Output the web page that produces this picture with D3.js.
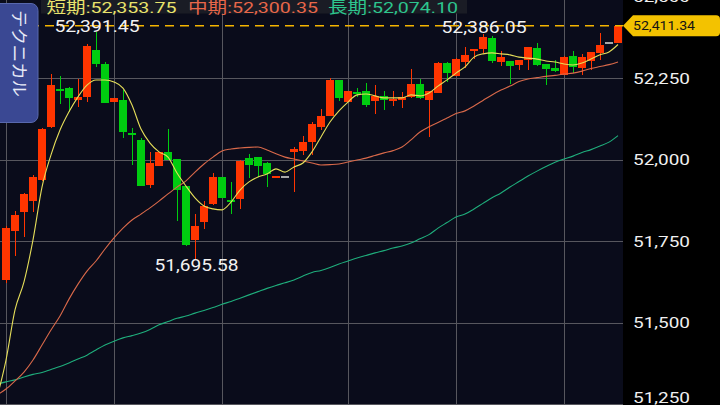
<!DOCTYPE html>
<html><head><meta charset="utf-8">
<script src="https://cdn.jsdelivr.net/npm/d3@7"></script>
<style>html,body{margin:0;padding:0;background:#000;overflow:hidden}</style>
</head><body><svg id="c" width="720" height="405"></svg>
<script>
// ---- data ----
const opens = [51631,51782,51840,51874,51938,52100,52216,52219,52182,52192,
  52336,52294,52176,52183,52080,52061,51922,51982,52024,52002,
  51919,51754,51810,51864,51947,51876,51879,52004,52008,51991,
  51943,51948,52025,52028,52054,52101,52134,52244,52178,52208,
  52210,52181,52197,52181,52183,52192,52232,52183,52206,52298,
  52258,52301,52334,52341,52373,52301,52303,52291,52306,52343,
  52293,52283,52260,52319,52283,52303,52329,52358,52358];
const highs = [51797,51843,51897,51953,52096,52262,52256,52223,52248,52354,
  52391.45,52301,52190,52214,52097,52067,52025,52025,52093,52002,
  51919,51833,51874,51958,51948,51933,51998,52019,52009,51992,
  51948,51948,52040,52074,52117,52156,52250,52246,52211,52221,
  52236,52229,52212,52212,52209,52279,52248,52212,52299,52301,
  52312,52347,52338,52386.05,52380,52335,52304,52307,52346,52358,
  52294,52306,52317,52334,52325,52331,52390,52358,52411.34];
const lows = [51621,51704,51763,51839,51936,52098,52170,52146,52163,52178,
  52286,52173,52176,52068,51984,51919,51912,51981,51998,51812,
  51736,51695.58,51787,51862,51882,51833,51849,51943,51948,51916,
  51943,51948,51902,52015,52015,52090,52133,52180,52177,52192,
  52163,52140,52154,52166,52160,52191,52186,52071,52204,52240,
  52256,52282,52309,52327,52298,52289,52232,52276,52276,52288,
  52229,52268,52259,52267,52260,52276,52306,52358,52357];
const closes = [51790,51830,51895,51948,52094,52229,52211,52189,52194,52349,
  52293,52175,52190,52086,52075,51920,51991,52025,51998,51908,
  51738,51798,51859,51948,51883,51872,51997,51984,51981,51956,
  51948,51948,52033,52054,52109,52134,52244,52189,52210,52203,
  52168,52197,52183,52186,52194,52233,52189,52211,52298,52267,
  52310,52322,52337,52377,52304,52315,52288,52306,52345,52291,
  52279,52273,52316,52286,52315,52331,52352,52358,52411.34];

// moving averages; the first value of each belongs to the bar just left of the view
const maShort = [51270,51385,51539,51625,51754,51916,52015,52091,52147,52193,52229,
  52245,52245,52239,52220,52168,52094,52051,52024,52008,51959,
  51919,51883,51858,51849,51846,51870,51907,51932,51947,51956,
  51972,51962,51978,51990,52024,52070,52116,52150,52177,52199,
  52202,52196,52190,52190,52190,52199,52196,52205,52226,52245,
  52266,52285,52315,52325,52328,52325,52322,52315,52312,52309,
  52303,52300,52294,52291,52297,52309,52322,52331,52353.75];
const maMid = [51278,51296,51321,51348,51385,51431,51477,51520,51572,51618,51658,
  51689,51726,51760,51790,51815,51833,51852,51873,51895,51916,
  51935,51962,51987,52008,52027,52033,52036,52038,52039,52030,
  52018,52008,52002,51996,51990,51984,51985,51987,51993,51999,
  52005,52013,52021,52028,52039,52061,52085,52101,52114,52128,
  52142,52150,52165,52182,52199,52214,52226,52240,52248,52252,
  52256,52259,52263,52266,52272,52280,52286,52292,52300.35];
const maLong = [51311,51318,51324,51333,51341,51347,51356,51365,51376,51388,51400,
  51416,51431,51443,51453,51460,51468,51479,51493,51503,51513,
  51520,51529,51537,51546,51556,51565,51575,51585,51595,51605,
  51614,51622,51631,51643,51654,51660,51669,51680,51689,51698,
  51706,51714,51721,51729,51735,51744,51757,51770,51790,51807,
  51824,51833,51849,51866,51883,51898,51916,51933,51950,51965,
  51979,51992,52002,52011,52022,52031,52042,52054,52074.10];

const yTicks = [51250, 51500, 51750, 52000, 52250, 52500];
const gridIdx = [0, 12, 24, 38, 50, 62];
const highLabelIdx = [10, 53];
const lowLabelIdx = [21];
const legendNames = ["短期", "中期", "長期"];
const tabLabel = "テクニカル";

// ---- drawing ----
const W = 720, H = 405, plotR = 623;
const FONT = "Roboto, 'Noto Sans CJK JP', sans-serif";
const svg = d3.select("#c");
const idx = d3.range(closes.length);

const x = d3.scaleBand().domain(idx).range([1.5, 1.5 + 9 * idx.length]).padding(0);
const cx = i => x(i) + x.bandwidth() / 2;
const xl = d3.scaleLinear().domain([0, 1]).range([cx(0), cx(1)]); // for MA points (index -1 allowed)
const y = d3.scaleLinear().domain([51250, 52250]).range([404, 78.3]);

svg.append("rect").attr("x", 0).attr("y", 0).attr("width", W).attr("height", H).attr("fill", "#000");
svg.append("rect").attr("x", 0).attr("y", 0).attr("width", plotR).attr("height", H).attr("fill", "#0a0c1b");

const clip = svg.append("defs").append("clipPath").attr("id", "plot");
clip.append("rect").attr("x", 0).attr("y", 0).attr("width", plotR).attr("height", H);

// gridlines
const grid = svg.append("g").attr("stroke", "#57575e").attr("stroke-width", 1).attr("shape-rendering", "crispEdges");
grid.selectAll("line.h").data(yTicks).join("line").attr("class", "h")
  .attr("x1", 0).attr("x2", plotR).attr("y1", d => Math.round(y(d)) + 0.5).attr("y2", d => Math.round(y(d)) + 0.5);
grid.selectAll("line.v").data(gridIdx).join("line").attr("class", "v")
  .attr("x1", d => Math.round(cx(d)) + 0.5).attr("x2", d => Math.round(cx(d)) + 0.5)
  .attr("y1", 0).attr("y2", 404);

// candles
const colorOf = i => closes[i] > opens[i] ? "#ff3500" : (closes[i] < opens[i] ? "#00cc10" : "#a8a8a8");
const cg = svg.append("g").attr("shape-rendering", "crispEdges");
cg.selectAll("rect.wick").data(idx).join("rect").attr("class", "wick")
  .attr("x", i => Math.floor(cx(i)))
  .attr("width", 1)
  .attr("y", i => y(highs[i]))
  .attr("height", i => Math.max(0, y(lows[i]) - y(highs[i])))
  .attr("fill", colorOf);
cg.selectAll("rect.body").data(idx).join("rect").attr("class", "body")
  .attr("x", i => x(i) + 0.5)
  .attr("width", 8)
  .attr("y", i => {
    const t = y(Math.max(opens[i], closes[i])), b = y(Math.min(opens[i], closes[i]));
    return b - t < 2 ? (t + b) / 2 - 1 : t;
  })
  .attr("height", i => Math.max(2, y(Math.min(opens[i], closes[i])) - y(Math.max(opens[i], closes[i]))))
  .attr("fill", colorOf);

// moving averages
const line = d3.line().x((d, i) => xl(i - 1)).y(d => y(d)).curve(d3.curveMonotoneX);
const maG = svg.append("g").attr("clip-path", "url(#plot)");
[[maLong, "#1fae7c"], [maMid, "#d9694a"], [maShort, "#e6df5a"]].forEach(([arr, c]) => {
  maG.append("path").datum(arr).attr("d", line).attr("fill", "none")
    .attr("stroke", c).attr("stroke-width", 1.1);
});

// current price dashed line
const last = closes[closes.length - 1];
svg.append("line").attr("x1", 0).attr("x2", plotR).attr("y1", y(last)).attr("y2", y(last))
  .attr("stroke", "#f4b400").attr("stroke-width", 1.5).attr("stroke-dasharray", "9,6");

function txt(g, xx, yy, s, o) {
  return g.append("text").attr("x", xx).attr("y", yy).text(s)
    .attr("font-family", o.family || FONT).attr("font-size", o.size)
    .attr("fill", o.fill).attr("text-anchor", o.anchor || "start")
    .attr("textLength", o.len).attr("lengthAdjust", "spacingAndGlyphs");
}
const fmt2 = d3.format(",.2f");

// high/low labels
highLabelIdx.forEach(i => txt(svg, cx(i) + 1, y(highs[i]) - 0.5, fmt2(highs[i]), {size: 16, fill: "#f2f2f2", anchor: "middle", len: 85}));
lowLabelIdx.forEach(i => txt(svg, cx(i) + 1.5, y(lows[i]) + 11.8, fmt2(lows[i]), {size: 16, fill: "#f2f2f2", anchor: "middle", len: 84}));

// right axis
const axisG = svg.append("g").attr("transform", "translate(633,0)")
  .call(d3.axisRight(y).tickValues(yTicks).tickSize(0).tickPadding(0).tickFormat(d3.format(",")));
axisG.select(".domain").remove();
axisG.selectAll("text").attr("font-family", FONT).attr("font-size", 14).attr("fill", "#f0f0f0")
  .attr("text-anchor", "start").attr("dy", "0.36em")
  .attr("textLength", 57).attr("lengthAdjust", "spacingAndGlyphs")
  .attr("y", d => Math.min(0, 397.5 - y(d)));

// price tag
const py = y(last);
svg.append("path")
  .attr("d", `M${plotR},${py} L633,${py - 10.5} L716,${py - 10.5} Q720,${py - 10.5} 720,${py - 6.5} L720,${py + 6.5} Q720,${py + 10.5} 716,${py + 10.5} L633,${py + 10.5} Z`)
  .attr("fill", "#f3c200");
txt(svg, 633, py + 4.3, fmt2(last), {size: 12, fill: "#141414", len: 62});

// legend
svg.append("rect").attr("x", 41).attr("y", 0).attr("width", 426).attr("height", 13.5).attr("fill", "#1a1c25");
const legVals = [maShort[maShort.length - 1], maMid[maMid.length - 1], maLong[maLong.length - 1]];
const legCols = ["#e9e36c", "#e8674a", "#2dc58e"];
const legX = [46.5, 188, 328];
legendNames.forEach((n, k) => txt(svg, legX[k], 12.5, n + ":" + fmt2(legVals[k]), {size: 15.5, fill: legCols[k], len: 130}));

// side tab
svg.append("rect").attr("x", -8).attr("y", 3.5).attr("width", 46).attr("height", 119).attr("rx", 7)
  .attr("fill", "#3a4893").attr("stroke", "#5868ad").attr("stroke-width", 1);
const tg = svg.append("g").attr("transform", "translate(18.5,53.5) rotate(90)");
tg.append("text").attr("x", 0).attr("y", 0).text(tabLabel)
  .attr("font-family", FONT).attr("font-size", 17).attr("fill", "#e6eaf7")
  .attr("text-anchor", "middle").attr("dominant-baseline", "central")
  .attr("textLength", 87).attr("lengthAdjust", "spacingAndGlyphs");
</script>
</body></html>
